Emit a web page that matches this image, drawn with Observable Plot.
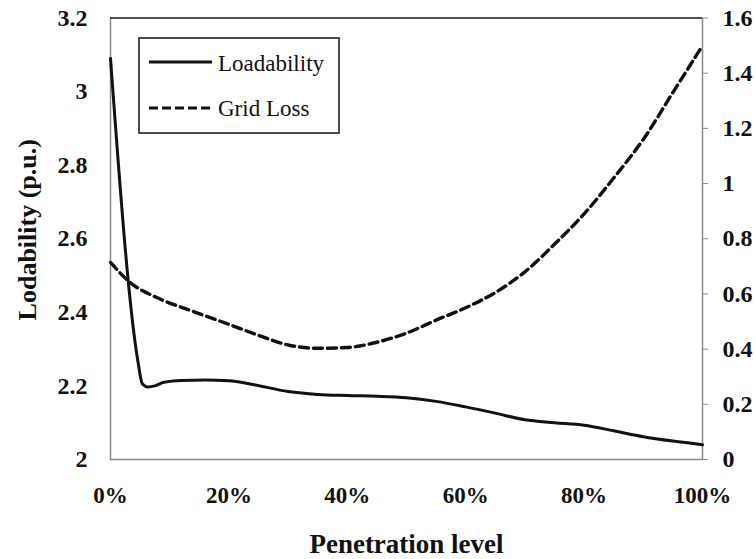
<!DOCTYPE html>
<html><head><meta charset="utf-8">
<script src="https://cdn.jsdelivr.net/npm/d3@7"></script>
<script src="https://cdn.jsdelivr.net/npm/@observablehq/plot@0.6"></script>
<style>
body{margin:0;background:#fff;}
#wrap{position:relative;width:756px;height:559px;}
#wrap svg text{font-family:"Liberation Serif","Times New Roman",serif;}
#legend{position:absolute;left:138px;top:37px;}
</style></head><body><div id="wrap"></div>
<script>
// Penetration level (%) and Loadability (p.u.) — left axis
const loadX = [0, 4.6, 5.4, 6.3, 7.5, 9, 12, 16, 20, 24, 30, 35, 40, 45, 50, 55, 60, 65, 70, 75, 80, 85, 90, 95, 100];
const loadY = [3.09, 2.27, 2.205, 2.197, 2.2, 2.21, 2.215, 2.216, 2.214, 2.204, 2.185, 2.177, 2.174, 2.172, 2.168, 2.158, 2.143, 2.126, 2.108, 2.1, 2.093, 2.078, 2.062, 2.05, 2.04];
// Penetration level (%) and Grid Loss — right axis
const lossX = [0, 3.4, 8, 13.5, 20, 25, 30, 35, 40, 45, 50, 55, 60, 65, 70, 75, 80, 85, 90, 95, 100];
const lossY = [0.714, 0.64, 0.585, 0.54, 0.49, 0.45, 0.415, 0.403, 0.406, 0.425, 0.458, 0.505, 0.55, 0.605, 0.68, 0.78, 0.89, 1.02, 1.16, 1.33, 1.5];
// Tick values
const xTicks = [0, 20, 40, 60, 80, 100];
const leftTicks = [2, 2.2, 2.4, 2.6, 2.8, 3, 3.2];
const rightTicks = [0, 0.2, 0.4, 0.6, 0.8, 1, 1.2, 1.4, 1.6];
const seriesNames = ["Loadability", "Grid Loss"];
const xTitle = "Penetration level";
const yTitle = "Lodability (p.u.)";

const leftDomain = [2, 3.2], rightDomain = [0, 1.6];
const toLeft = v => leftDomain[0] + (v - rightDomain[0]) * (leftDomain[1] - leftDomain[0]) / (rightDomain[1] - rightDomain[0]);
const fromLeft = v => rightDomain[0] + (v - leftDomain[0]) * (rightDomain[1] - rightDomain[0]) / (leftDomain[1] - leftDomain[0]);
const fmt = v => String(+(+v).toFixed(1));

const loadData = loadX.map((p, i) => ({p, v: loadY[i]}));
const lossData = lossX.map((p, i) => ({p, v: lossY[i]}));

const serif = "Liberation Serif";

const chart = Plot.plot({
  width: 756, height: 559,
  marginLeft: 110, marginRight: 54, marginTop: 17.5, marginBottom: 100,
  style: {fontFamily: serif, background: "#fff", color: "#111"},
  x: {domain: [0, 100]},
  y: {domain: leftDomain},
  marks: [
    Plot.frame({stroke: "#8a8a8a", strokeWidth: 1.5}),
    Plot.ruleY([leftDomain[1]], {stroke: "#333", strokeWidth: 1.5}),
    Plot.axisX(xTicks, {tickSize: 0, tickPadding: 27, fontSize: 23, fontWeight: "bold", fontFamily: serif, tickFormat: d => d + "%", label: null}),
    Plot.axisY(leftTicks, {anchor: "left", tickSize: 0, tickPadding: 23, fontSize: 24, fontWeight: "bold", fontFamily: serif, tickFormat: fmt, label: null}),
    Plot.axisY(rightTicks.map(toLeft), {anchor: "right", tickSize: 5, tickPadding: 15, stroke: "#8a8a8a", fontSize: 24, fontWeight: "bold", fontFamily: serif, tickFormat: d => fmt(fromLeft(d)), label: null}),
    Plot.line(lossData, {x: "p", y: d => toLeft(d.v), stroke: "#111", strokeWidth: 3.4, strokeDasharray: "9,5", curve: "monotone-x"}),
    Plot.line(loadData, {x: "p", y: "v", stroke: "#111", strokeWidth: 3, curve: "monotone-x"}),
    Plot.text([yTitle], {frameAnchor: "left", textAnchor: "middle", lineAnchor: "middle", rotate: -90, dx: -83, dy: -9, fontSize: 26, fontWeight: "bold", fontFamily: serif, fill: "#111"}),
    Plot.text([xTitle], {frameAnchor: "bottom", textAnchor: "middle", lineAnchor: "middle", dy: 85, fontSize: 27, fontWeight: "bold", fontFamily: serif, fill: "#111"})
  ]
});
const wrap = document.getElementById("wrap");
wrap.appendChild(chart);

// Legend
const ns = "http://www.w3.org/2000/svg";
const lg = document.createElementNS(ns, "svg");
lg.setAttribute("id", "legend");
lg.setAttribute("width", 203);
lg.setAttribute("height", 98);
lg.innerHTML = `
  <rect x="1" y="1" width="200" height="95" fill="#fff" stroke="#222" stroke-width="1.6"/>
  <line x1="11" x2="74" y1="25" y2="25" stroke="#111" stroke-width="3"/>
  <line x1="11" x2="75" y1="71" y2="71" stroke="#111" stroke-width="3.2" stroke-dasharray="9,4"/>
  <text x="80" y="34" font-family="Liberation Serif" font-size="23" fill="#111">${seriesNames[0]}</text>
  <text x="80" y="79" font-family="Liberation Serif" font-size="23" fill="#111">${seriesNames[1]}</text>`;
wrap.appendChild(lg);
</script></body></html>
